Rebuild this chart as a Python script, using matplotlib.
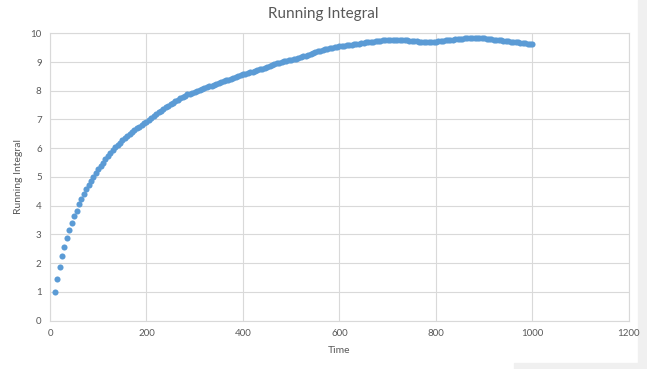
import numpy as np
import matplotlib
matplotlib.use('Agg')
import matplotlib.pyplot as plt
from matplotlib.patches import Rectangle

# time samples (every 5 units from 10 to 1000)
time = np.arange(10, 1001, 5)

# running integral values
running = [
    1.00, 1.46, 1.86, 2.24, 2.56, 2.88, 3.15, 3.40, 3.64, 3.83,   # 10-55
    4.04, 4.22, 4.39, 4.57, 4.73, 4.87, 5.01, 5.14, 5.26, 5.38,   # 60-105
    5.50, 5.63, 5.74, 5.84, 5.94, 6.03, 6.11, 6.19, 6.27, 6.35,   # 110-155
    6.42, 6.49, 6.56, 6.62, 6.69, 6.75, 6.80, 6.86, 6.91, 6.98,   # 160-205
    7.05, 7.12, 7.19, 7.25, 7.30, 7.36, 7.42, 7.48, 7.53, 7.59,   # 210-255
    7.64, 7.69, 7.74, 7.78, 7.83, 7.87, 7.90, 7.93, 7.96, 7.99,   # 260-305
    8.02, 8.05, 8.08, 8.12, 8.15, 8.18, 8.21, 8.24, 8.27, 8.30,   # 310-355
    8.33, 8.36, 8.39, 8.42, 8.46, 8.49, 8.52, 8.55, 8.57, 8.59,   # 360-405
    8.61, 8.64, 8.66, 8.69, 8.72, 8.74, 8.77, 8.80, 8.83, 8.86,   # 410-455
    8.89, 8.92, 8.95, 8.97, 8.99, 9.02, 9.04, 9.06, 9.08, 9.10,   # 460-505
    9.12, 9.15, 9.17, 9.20, 9.22, 9.25, 9.28, 9.31, 9.34, 9.37,   # 510-555
    9.39, 9.42, 9.44, 9.46, 9.48, 9.50, 9.52, 9.53, 9.55, 9.56,   # 560-605
    9.57, 9.58, 9.59, 9.60, 9.61, 9.62, 9.64, 9.66, 9.67, 9.68,   # 610-655
    9.69, 9.70, 9.71, 9.72, 9.73, 9.74, 9.75, 9.76, 9.77, 9.77,   # 660-705
    9.77, 9.77, 9.77, 9.77, 9.76, 9.76, 9.75, 9.74, 9.73, 9.72,   # 710-755
    9.72, 9.71, 9.71, 9.71, 9.71, 9.71, 9.71, 9.71, 9.71, 9.72,   # 760-805
    9.73, 9.74, 9.75, 9.76, 9.77, 9.78, 9.79, 9.80, 9.81, 9.81,   # 810-855
    9.82, 9.82, 9.82, 9.83, 9.83, 9.83, 9.83, 9.82, 9.82, 9.81,   # 860-905
    9.80, 9.79, 9.78, 9.77, 9.76, 9.75, 9.74, 9.73, 9.72, 9.71,   # 910-955
    9.70, 9.69, 9.68, 9.67, 9.66, 9.65, 9.64, 9.63, 9.62,         # 960-1000
]

x_ticks = [0, 200, 400, 600, 800, 1000, 1200]
y_ticks = list(range(0, 11))

plt.rcParams['font.family'] = ['Lato', 'DejaVu Sans']
grey_text = '#595959'
grid_col = '#D9D9D9'

fig = plt.figure(figsize=(6.47, 3.69), dpi=100)
ax = fig.add_axes([0.0773, 0.1314, 0.8947, 0.7784])

ax.plot(time, running, 'o', color='#5B9BD5', markersize=4.4, markeredgewidth=0)

ax.set_xlim(0, 1200)
ax.set_ylim(0, 10)
ax.set_xticks(x_ticks)
ax.set_yticks(y_ticks)
ax.grid(True, color=grid_col, linewidth=0.8)
ax.set_axisbelow(True)
for s in ax.spines.values():
    s.set_color(grid_col)
    s.set_linewidth(0.8)
ax.tick_params(length=0, labelsize=7, colors=grey_text, pad=6)

# title is centred on the whole picture, not on the plot area
fig.text(0.5, 0.963, 'Running Integral', ha='center', va='center',
         fontsize=11, color=grey_text)
ax.set_xlabel('Time', fontsize=7.5, color=grey_text, labelpad=6)
ax.set_ylabel('Running Integral', fontsize=7.5, color=grey_text, labelpad=13)
ax.yaxis.set_label_coords(-0.047, 0.5)

# light grey strip on the right edge, as in the screenshot
fig.patches.append(Rectangle((0.986, 0), 0.014, 1, transform=fig.transFigure,
                             color='#F0F0F0', zorder=-1))
fig.patches.append(Rectangle((0.795, 0), 0.205, 0.015, transform=fig.transFigure,
                             color='#F0F0F0', zorder=-1))

fig.savefig('out.png', dpi=100)
